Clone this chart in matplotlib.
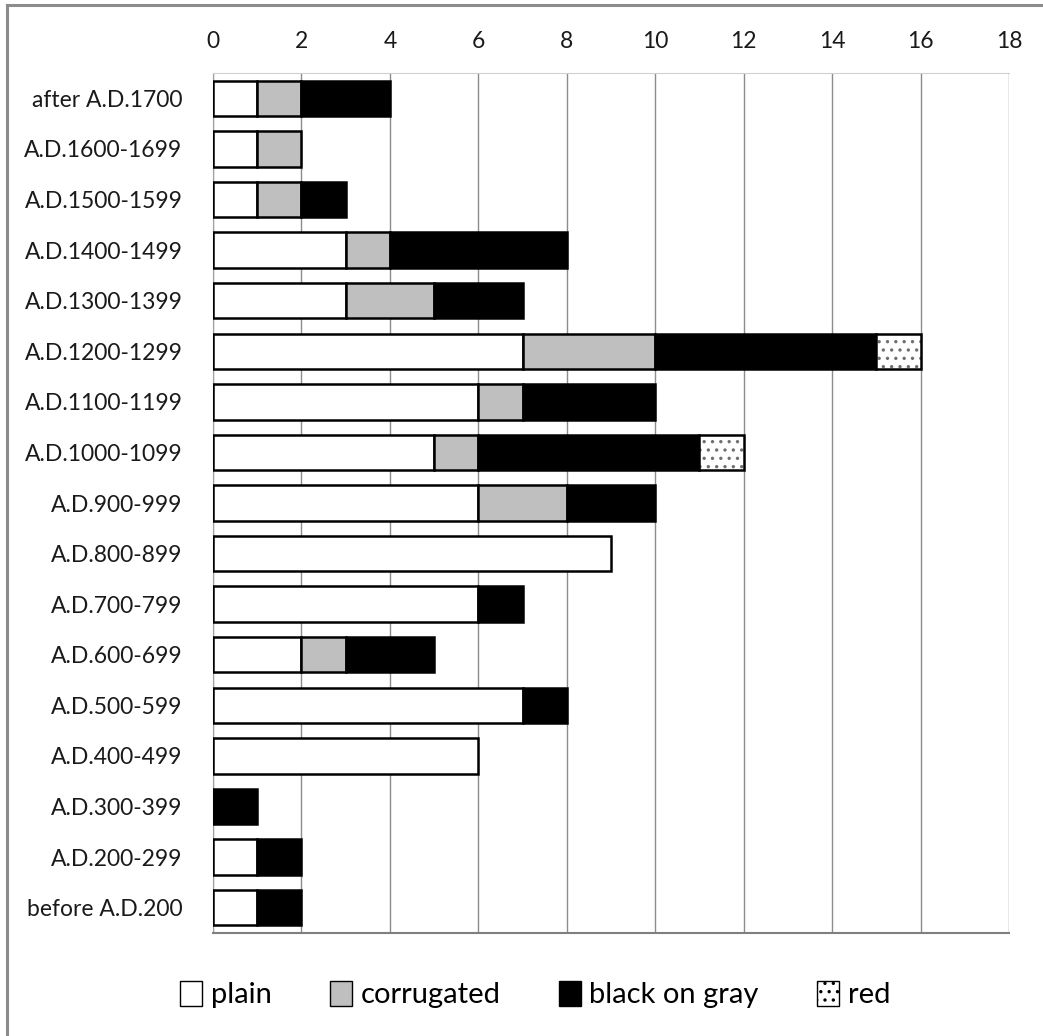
import matplotlib.pyplot as plt
import numpy as np
from matplotlib.lines import Line2D
from matplotlib.patches import Patch

plt.rcParams['font.family'] = ['Lato', 'DejaVu Sans']
plt.rcParams['hatch.linewidth'] = 1.2

# categories listed top to bottom
periods = ["after A.D.1700", "A.D.1600-1699", "A.D.1500-1599", "A.D.1400-1499",
           "A.D.1300-1399", "A.D.1200-1299", "A.D.1100-1199", "A.D.1000-1099",
           "A.D.900-999", "A.D.800-899", "A.D.700-799", "A.D.600-699",
           "A.D.500-599", "A.D.400-499", "A.D.300-399", "A.D.200-299",
           "before A.D.200"]
plain = [1, 1, 1, 3, 3, 7, 6, 5, 6, 9, 6, 2, 7, 6, 0, 1, 1]
corrugated = [1, 1, 1, 1, 2, 3, 1, 1, 2, 0, 0, 1, 0, 0, 0, 0, 0]
black_on_gray = [2, 0, 1, 4, 2, 5, 3, 5, 2, 0, 1, 2, 1, 0, 1, 1, 1]
red = [0, 0, 0, 0, 0, 1, 0, 1, 0, 0, 0, 0, 0, 0, 0, 0, 0]

series = [
    ("plain", plain, "white", None),
    ("corrugated", corrugated, "#bfbfbf", None),
    ("black on gray", black_on_gray, "black", None),
    ("red", red, "white", ".."),
]

fig = plt.figure(figsize=(10.43, 10.36), dpi=100)
ax = fig.add_axes([0.2042, 0.0994, 0.7632, 0.8301])

y = np.arange(len(periods))
left = np.zeros(len(periods))
for name, vals, fc, hatch in series:
    vals = np.array(vals, dtype=float)
    m = vals > 0
    if hatch:
        # dotted fill in grey, outline drawn on top
        ax.barh(y[m], vals[m], left=left[m], height=0.7, color=fc,
                hatch=hatch, edgecolor="#707070", linewidth=0, zorder=3)
        ax.barh(y[m], vals[m], left=left[m], height=0.7, fill=False,
                edgecolor="black", linewidth=1.8, zorder=4)
    else:
        ax.barh(y[m], vals[m], left=left[m], height=0.7, color=fc,
                edgecolor="black", linewidth=1.8, zorder=3)
    left += vals

ax.set_xlim(0, 18)
ax.set_ylim(len(periods) - 0.5, -0.5)
ax.set_xticks(np.arange(0, 19, 2))
ax.set_yticks(y)
ax.set_yticklabels(periods)
ax.xaxis.tick_top()
ax.tick_params(axis="both", length=0, labelsize=16.5, colors="#1a1a1a")
ax.tick_params(axis="y", pad=22)
ax.tick_params(axis="x", pad=15)
ax.grid(axis="x", color="#8c8c8c", linewidth=1.0, zorder=0)
ax.spines["right"].set_visible(False)
ax.spines["top"].set_color("#d0d0d0")
ax.spines["left"].set_color("#a0a0a0")
ax.spines["bottom"].set_color("#7f7f7f")
ax.spines["bottom"].set_linewidth(1.5)

handles = [Patch(facecolor=fc, hatch=hatch, edgecolor="black", linewidth=1.0,
                 label=name) for name, _, fc, hatch in series]
fig.legend(handles=handles, loc="center", bbox_to_anchor=(0.513, 0.04),
           ncol=4, frameon=False, fontsize=21, handlelength=0.75,
           handleheight=0.95, handletextpad=0.3, columnspacing=2.0)

# chart border (only left and top edges fall inside the image)
fig.add_artist(Line2D([0.007, 0.007], [0, 0.995], transform=fig.transFigure,
                      color="#8c8c8c", linewidth=2.2))
fig.add_artist(Line2D([0.007, 1], [0.995, 0.995], transform=fig.transFigure,
                      color="#8c8c8c", linewidth=2.2))

fig.savefig("out.png", dpi=100, facecolor="white")
